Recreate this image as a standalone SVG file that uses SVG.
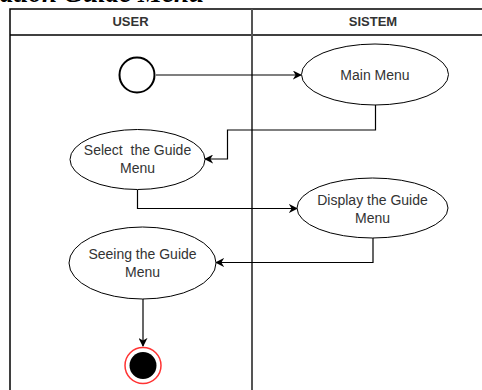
<svg xmlns="http://www.w3.org/2000/svg" width="482" height="390" viewBox="0 0 482 390">
<defs>
<marker id="arr" viewBox="0 0 10 10" refX="9" refY="5" markerWidth="9" markerHeight="9" markerUnits="userSpaceOnUse" orient="auto">
<path d="M0,0 L10,5 L0,10 L3,5 Z" fill="#000"/>
</marker>
</defs>
<style>
.lbl{font-family:"Liberation Sans",Arial,sans-serif;font-size:14px;fill:#333;text-anchor:middle}
.hdr{font-family:"Liberation Sans",Arial,sans-serif;font-size:13px;font-weight:bold;fill:#333;text-anchor:middle}
.act{fill:#fff;stroke:#000;stroke-width:1}
.conn{fill:none;stroke:#000;stroke-width:1.2;marker-end:url(#arr)}
</style>
<rect width="482" height="390" fill="#fff"/>
<text x="0" y="2" font-family="'Liberation Serif','Times New Roman',serif" font-size="27" font-style="italic" font-weight="bold" fill="#000">ation Guide Menu</text>
<g id="lanes">
<rect x="10" y="9" width="490" height="400" fill="none" stroke="#000" stroke-width="1.5"/>
<line x1="10" y1="35" x2="482" y2="35" stroke="#000" stroke-width="1.5"/>
<line x1="252" y1="9" x2="252" y2="390" stroke="#555" stroke-width="2"/>
<text class="hdr" x="130.5" y="26">USER</text>
<text class="hdr" x="373" y="26">SISTEM</text>
</g>
<g id="connectors">
<path class="conn" d="M156,75 H301"/>
<path class="conn" d="M375.5,105 V130 H227.5 V159 H205"/>
<path class="conn" d="M137.5,190 V208.5 H297"/>
<path class="conn" d="M373,238 V262.5 H216"/>
<path class="conn" d="M143,299 V346"/>
</g>
<g id="start">
<circle cx="137" cy="75" r="17.5" fill="#fff" stroke="#000" stroke-width="2"/>
</g>
<g id="main-menu">
<ellipse class="act" cx="375" cy="74.5" rx="73.5" ry="30.5"/>
<text class="lbl" x="375" y="79.5">Main Menu</text>
</g>
<g id="select-guide">
<ellipse class="act" cx="137.5" cy="159.5" rx="67.5" ry="30"/>
<text class="lbl" x="137.5" y="155" xml:space="preserve">Select  the Guide</text>
<text class="lbl" x="137.5" y="173">Menu</text>
</g>
<g id="display-guide">
<ellipse class="act" cx="372.5" cy="208" rx="75.5" ry="30"/>
<text class="lbl" x="372.5" y="205">Display the Guide</text>
<text class="lbl" x="372.5" y="222.5">Menu</text>
</g>
<g id="seeing-guide">
<ellipse class="act" cx="142.5" cy="263" rx="73.5" ry="36"/>
<text class="lbl" x="142.5" y="258.5">Seeing the Guide</text>
<text class="lbl" x="142.5" y="276.5">Menu</text>
</g>
<g id="end">
<circle cx="143" cy="365.5" r="18" fill="#fff" stroke="#ff3333" stroke-width="1.5"/>
<circle cx="143" cy="365.5" r="13.5" fill="#000"/>
</g>
</svg>
